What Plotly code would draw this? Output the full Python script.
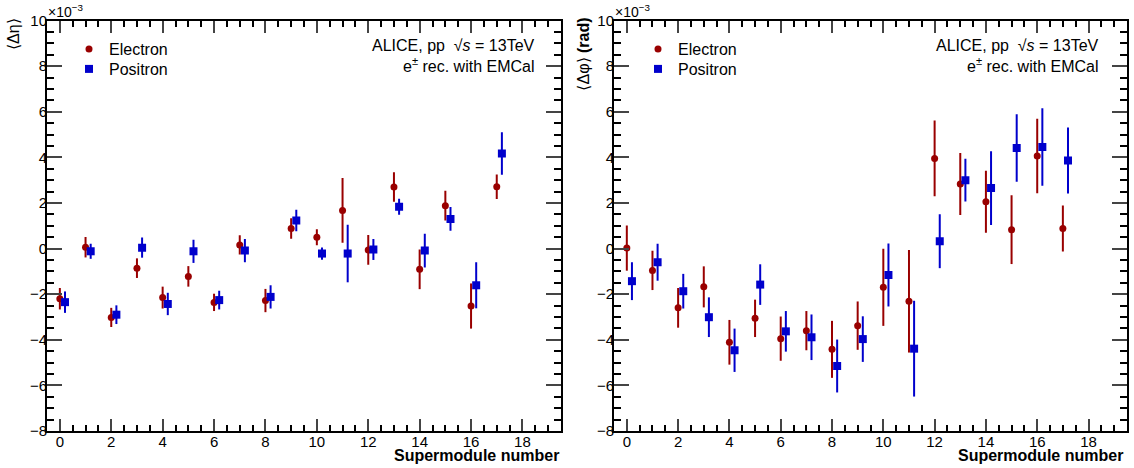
import plotly.graph_objects as go

# supermodule index and mean residuals (units of 1e-3)
sm = list(range(18))

deta_e = [-2.20, 0.06, -3.02, -0.86, -2.15, -1.22, -2.36, 0.16, -2.28, 0.88,
          0.50, 1.67, -0.06, 2.70, -0.91, 1.88, -2.52, 2.71]
deta_e_err = [0.47, 0.45, 0.42, 0.43, 0.48, 0.45, 0.38, 0.42, 0.51, 0.45,
              0.35, 1.42, 0.65, 0.65, 0.87, 0.65, 0.99, 0.54]
deta_p = [-2.35, -0.12, -2.90, 0.04, -2.43, -0.12, -2.26, -0.09, -2.12, 1.23,
          -0.22, -0.22, -0.04, 1.83, -0.09, 1.30, -1.61, 4.17]
deta_p_err = [0.47, 0.33, 0.41, 0.44, 0.49, 0.51, 0.41, 0.51, 0.51, 0.47,
              0.27, 1.26, 0.46, 0.35, 0.74, 0.52, 1.01, 0.93]

dphi_e = [0.02, -0.96, -2.60, -1.68, -4.11, -3.06, -3.95, -3.60, -4.42, -3.38,
          -1.70, -2.31, 3.95, 2.83, 2.05, 0.83, 4.06, 0.88]
dphi_e_err = [0.99, 0.86, 0.87, 0.90, 0.98, 0.82, 0.97, 0.86, 1.25, 1.06,
              1.69, 2.25, 1.66, 1.36, 1.36, 1.51, 1.63, 1.01]
dphi_p = [-1.43, -0.60, -1.87, -3.01, -4.46, -1.58, -3.63, -3.89, -5.15, -3.97,
          -1.16, -4.39, 0.32, 3.00, 2.65, 4.41, 4.45, 3.86]
dphi_p_err = [0.83, 0.81, 0.76, 0.87, 0.95, 0.89, 0.89, 1.00, 1.16, 1.00,
              1.38, 2.10, 1.18, 0.94, 1.62, 1.48, 1.70, 1.45]

x_ticks = list(range(0, 19, 2))
y_ticks = list(range(-8, 11, 2))
y_ticktext = [str(v).replace("-", "\u2212") for v in y_ticks]

RED = "#990000"
BLUE = "#0000cc"
FONT = "Liberation Sans, Arial, sans-serif"
W, H = 1134, 468
shift = 0.2  # positron points drawn slightly to the right


def px(x):
    return x / W


def py(y):
    return 1 - y / H


fig = go.Figure()


def add_pair(xa, ya, e_vals, e_err, p_vals, p_err, leg_e, leg_p):
    fig.add_trace(go.Scatter(
        x=sm, y=e_vals, mode="markers", name="Electron",
        marker=dict(symbol="circle", size=7, color=RED),
        error_y=dict(type="data", array=e_err, color=RED, thickness=2, width=0),
        xaxis=xa, yaxis=ya, legend=leg_e))
    fig.add_trace(go.Scatter(
        x=[s + shift for s in sm], y=p_vals, mode="markers", name="Positron",
        marker=dict(symbol="square", size=8, color=BLUE),
        error_y=dict(type="data", array=p_err, color=BLUE, thickness=2, width=0),
        xaxis=xa, yaxis=ya, legend=leg_p))


add_pair("x", "y", deta_e, deta_e_err, deta_p, deta_p_err, "legend", "legend2")
add_pair("x2", "y2", dphi_e, dphi_e_err, dphi_p, dphi_p_err, "legend3", "legend4")

xbase = dict(range=[-0.5, 19.5], tickvals=x_ticks, ticks="inside", ticklen=12,
             tickwidth=1.5, showline=True, linewidth=2, linecolor="black",
             mirror="ticks", showgrid=False, zeroline=False, automargin=False,
             ticklabelstandoff=-4,
             tickfont=dict(family=FONT, size=15, color="black"),
             minor=dict(dtick=0.5, ticks="inside", ticklen=6, tickwidth=1.5,
                        tickcolor="black", showgrid=False))
ybase = dict(range=[-8, 10], tickvals=y_ticks, ticktext=y_ticktext,
             ticks="inside", ticklen=15, tickwidth=1.5, showline=True,
             linewidth=2, linecolor="black", mirror="ticks", showgrid=False,
             zeroline=False, automargin=False, ticklabelstandoff=-5,
             tickfont=dict(family=FONT, size=15, color="black"),
             minor=dict(dtick=0.5, ticks="inside", ticklen=7, tickwidth=1.5,
                        tickcolor="black", showgrid=False))

left_dom = [px(47), px(561)]
right_dom = [px(614), px(1127)]
ydom = [py(431), py(20.5)]


def leg(x, y):
    return dict(x=px(x), y=py(y), xanchor="left", yanchor="middle",
                bgcolor="rgba(0,0,0,0)", font=dict(size=16, family=FONT))


fig.update_layout(
    width=W, height=H,
    margin=dict(l=0, r=0, t=0, b=0, pad=0, autoexpand=False),
    paper_bgcolor="white", plot_bgcolor="white",
    font=dict(family=FONT, color="black"),
    showlegend=True,
    xaxis=dict(xbase, domain=left_dom, anchor="y"),
    yaxis=dict(ybase, domain=ydom, anchor="x"),
    xaxis2=dict(xbase, domain=right_dom, anchor="y2"),
    yaxis2=dict(ybase, domain=ydom, anchor="x2"),
    legend=leg(69, 49),
    legend2=leg(69, 69),
    legend3=leg(638, 49),
    legend4=leg(638, 69),
)

ann = []
for x_right, x_left, ytitle, ytitle_x in [(561, 47, "\u27e8\u0394\u03b7\u27e9", 14),
                                           (1125, 614, "\u27e8\u0394\u03c6\u27e9 <b>(rad)</b>", 583)]:
    common = dict(xref="paper", yref="paper", showarrow=False)
    ann.append(dict(common, text="<b>Supermodule number</b>", x=px(x_right), y=py(455),
                    xanchor="right", yanchor="middle", font=dict(size=16, family=FONT)))
    ann.append(dict(common, text="\u00d710<sup>\u22123</sup>", x=px(x_left - 1), y=py(11),
                    xanchor="left", yanchor="middle", font=dict(size=14, family=FONT)))
    ann.append(dict(common, text=ytitle, x=px(ytitle_x), y=py(16), textangle=-90,
                    xanchor="center", yanchor="top", font=dict(size=16, family=FONT)))
    ann.append(dict(common, text="ALICE, pp  \u221a<i>s</i> = 13TeV", x=px(x_right - 24),
                    y=py(46), xanchor="right", yanchor="middle",
                    font=dict(size=16, family=FONT)))
    ann.append(dict(common, text="e<sup>\u00b1</sup> rec. with EMCal", x=px(x_right - 24),
                    y=py(65), xanchor="right", yanchor="middle",
                    font=dict(size=16, family=FONT)))
fig.update_layout(annotations=ann)

# drop the browser's default 8px body margin so the figure fills the window
fig.write_html("out.html", config={"displayModeBar": False},
               post_script="document.body.style.margin = '0';")
